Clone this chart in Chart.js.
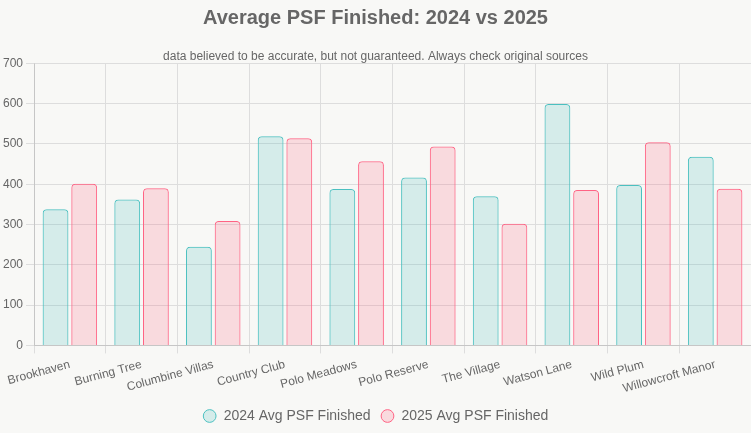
<!DOCTYPE html>
<html>
<head>
<meta charset="utf-8">
<script src="https://cdn.jsdelivr.net/npm/chart.js@4.4.1/dist/chart.umd.min.js"></script>
<style>
  html, body { margin: 0; padding: 0; background: #f8f8f6; }
  #wrap { width: 751px; height: 433px; }
</style>
</head>
<body>
<div id="wrap"><canvas id="psfChart"></canvas></div>
<script>
const communities = ['Brookhaven', 'Burning Tree', 'Columbine Villas', 'Country Club', 'Polo Meadows',
  'Polo Reserve', 'The Village', 'Watson Lane', 'Wild Plum', 'Willowcroft Manor'];
const psf2024 = [338, 362, 245, 519, 388, 417, 370, 599, 398, 468];
const psf2025 = [401, 390, 309, 514, 457, 494, 302, 386, 504, 389];
const yTicks = [0, 100, 200, 300, 400, 500, 600, 700];

const tealColor = 'rgb(75, 192, 192)';
const pinkColor = 'rgb(255, 99, 132)';

Chart.defaults.font.family = "'Liberation Sans', Arial, sans-serif";
Chart.defaults.color = '#666';

new Chart(document.getElementById('psfChart'), {
  type: 'bar',
  data: {
    labels: communities,
    datasets: [{
      label: '2024 Avg PSF Finished',
      data: psf2024,
      backgroundColor: 'rgba(75, 192, 192, 0.2)',
      borderColor: tealColor,
      borderWidth: 1,
      borderRadius: 4
    }, {
      label: '2025 Avg PSF Finished',
      data: psf2025,
      backgroundColor: 'rgba(255, 99, 132, 0.2)',
      borderColor: pinkColor,
      borderWidth: 1,
      borderRadius: 4
    }]
  },
  options: {
    responsive: true,
    maintainAspectRatio: false,
    animation: false,
    plugins: {
      title: {
        display: true,
        text: 'Average PSF Finished: 2024 vs 2025',
        font: { size: 20, weight: 'bold' },
        padding: { top: 6, bottom: 19 }
      },
      subtitle: {
        display: true,
        text: 'data believed to be accurate, but not guaranteed. Always check original sources',
        font: { size: 12 },
        padding: { bottom: 0 }
      },
      legend: {
        position: 'bottom',
        labels: { usePointStyle: true, pointStyle: 'circle', boxWidth: 14, boxHeight: 9,
          font: { size: 14 }, padding: 10 }
      }
    },
    scales: {
      x: {
        grid: { color: '#ddd' },
        ticks: { font: { size: 12 }, maxRotation: 15, minRotation: 15, padding: 4 },
        afterFit: (axis) => { axis.height -= 1; }
      },
      y: {
        min: 0,
        max: 700,
        grid: { color: '#ddd' },
        ticks: { stepSize: 100, font: { size: 12 },
          callback: (v) => yTicks.includes(v) ? v : '' }
      }
    }
  }
});
</script>
</body>
</html>
